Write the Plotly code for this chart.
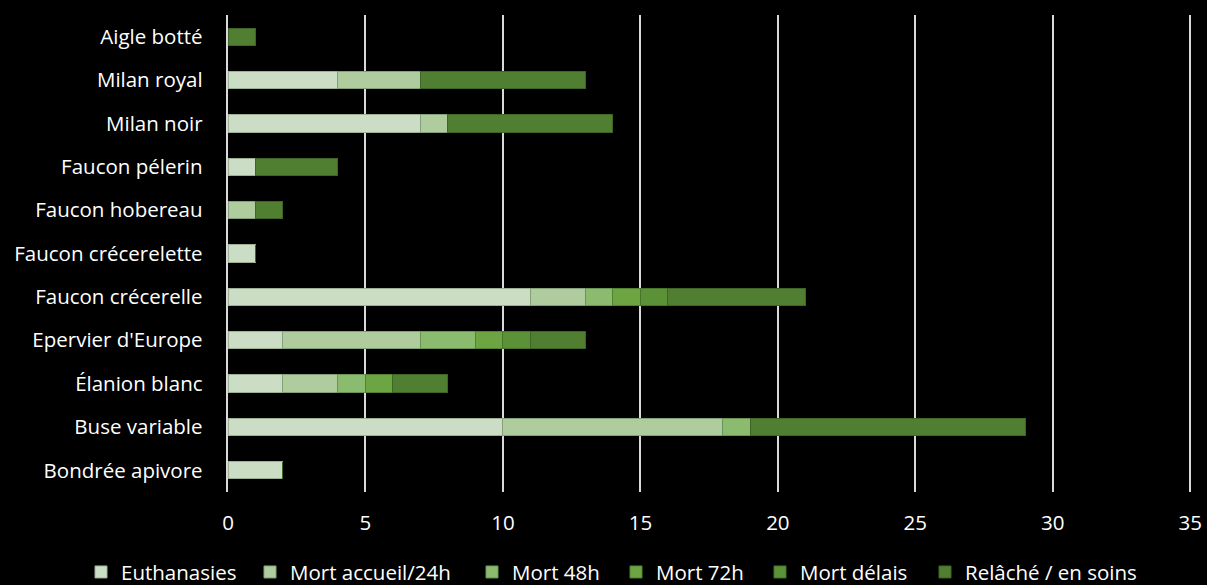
import plotly.graph_objects as go

species = ["Aigle botté", "Milan royal", "Milan noir", "Faucon pélerin", "Faucon hobereau",
           "Faucon crécerelette", "Faucon crécerelle", "Epervier d'Europe", "Élanion blanc",
           "Buse variable", "Bondrée apivore"]

euthanasies   = [0, 4, 7, 1, 0, 1, 11, 2, 2, 10, 2]
mort_accueil  = [0, 3, 1, 0, 1, 0, 2, 5, 2, 8, 0]
mort_48h      = [0, 0, 0, 0, 0, 0, 1, 2, 1, 1, 0]
mort_72h      = [0, 0, 0, 0, 0, 0, 1, 1, 1, 0, 0]
mort_delais   = [0, 0, 0, 0, 0, 0, 1, 1, 0, 0, 0]
relache       = [1, 6, 6, 3, 1, 0, 5, 2, 2, 10, 0]

series_names = ["Euthanasies", "Mort accueil/24h", "Mort 48h", "Mort 72h", "Mort délais", "Relâché / en soins"]
series_values = [euthanasies, mort_accueil, mort_48h, mort_72h, mort_delais, relache]
colors = ["#CCDDC5", "#AFCC9F", "#8BBB6E", "#6CA542", "#5B9137", "#507F32"]
border = ["#9DB094", "#85A078", "#6A9455", "#538233", "#47732B", "#3E6427"]

x_ticks = [0, 5, 10, 15, 20, 25, 30, 35]

# left pixel position of each legend entry (one legend per series so the row never wraps)
legend_left_px = [81, 250, 472, 616, 760, 925]

font_family = "'Open Sans', sans-serif"
fsize = 20.5
W, H = 1207, 585

fig = go.Figure()
legend_layouts = {}
for i, (name, vals, c, b) in enumerate(zip(series_names, series_values, colors, border)):
    lkey = "legend" if i == 0 else f"legend{i + 1}"
    fig.add_trace(go.Bar(
        y=[s + " " for s in species], x=vals, name=name, orientation="h",
        marker=dict(color=c, line=dict(color=b, width=1)),
        legend=lkey,
    ))
    legend_layouts[lkey] = dict(
        orientation="h", x=legend_left_px[i] / W, xanchor="left", xref="container",
        y=0.022, yanchor="middle", yref="container",
        font=dict(size=fsize, color="white", family=font_family),
        itemwidth=30, bgcolor="rgba(0,0,0,0)",
    )

fig.update_layout(
    barmode="stack",
    bargap=0.6,
    width=W, height=H,
    paper_bgcolor="black", plot_bgcolor="black",
    margin=dict(l=228, r=5, t=15, b=93),
    font=dict(family=font_family, size=fsize, color="white"),
    xaxis=dict(range=[0, 35.1], tickvals=x_ticks, showgrid=True, gridcolor="#D9D9D9",
               gridwidth=2, zeroline=False, ticks="", tickfont=dict(size=fsize, color="white"),
               ticklabelstandoff=16, ticklabeloverflow="allow", fixedrange=True),
    yaxis=dict(autorange="reversed", showgrid=False, showline=True, linecolor="#D9D9D9",
               linewidth=2, ticks="", tickfont=dict(size=fsize, color="white"), ticklabelstandoff=14),
    showlegend=True,
    **legend_layouts,
)

fig.write_html("out.html")
